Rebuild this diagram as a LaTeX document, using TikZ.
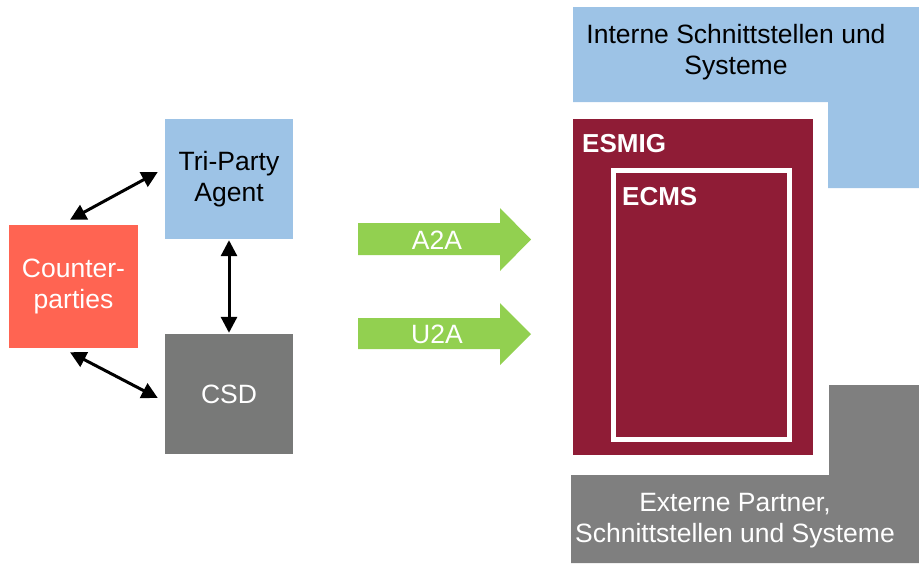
\documentclass[tikz,border=0pt]{standalone}
\usepackage{fontspec}
\setmainfont{Liberation Sans}
\usetikzlibrary{arrows.meta}
\definecolor{tpablue}{HTML}{9DC3E6}
\definecolor{cpred}{HTML}{FF6452}
\definecolor{csdgrey}{HTML}{787978}
\definecolor{extgrey}{HTML}{7F7F7F}
\definecolor{esmigred}{HTML}{8F1C36}
\definecolor{flowgreen}{HTML}{92D050}
\begin{document}
\begin{tikzpicture}[x=1pt,y=-1pt,
    box/.style={rectangle,inner sep=0pt,align=center,
      font=\fontsize{26.5}{31}\selectfont},
    link/.style={{Triangle[length=16pt,width=16pt]}-{Triangle[length=16pt,width=16pt]},line width=3pt},
    flow/.style={fill=flowgreen},
    lbl/.style={inner sep=0pt,align=center,font=\fontsize{26.5}{31}\selectfont},
    tag/.style={anchor=base west,inner sep=0pt,text=white,
      font=\fontsize{26}{30}\selectfont\bfseries}]

  \useasboundingbox (0,0) rectangle (919,563);

  \node[box,fill=tpablue,minimum width=128pt,minimum height=120pt] (tpa) at (229,179) {Tri-Party\\Agent};
  \node[box,fill=cpred,text=white,minimum width=129pt,minimum height=123pt] (cp) at (73.5,286.5) {Counter-\\parties};
  \node[box,fill=csdgrey,text=white,minimum width=128pt,minimum height=120pt] (csd) at (229,394) {CSD};

  \draw[link] ([shift={(-3.5,-5)}]cp.north) -- ([shift={(-7,-7)}]tpa.west);
  \draw[link,shorten <=1pt,shorten >=1pt] (tpa.south) -- (csd.north);
  \draw[link] ([shift={(-3.5,4)}]cp.south) -- ([shift={(-7,4)}]csd.west);

  % A2A / U2A
  \fill[flow] (358,223) -- (500,223) -- (500,208) -- (531,239.5) -- (500,271) -- (500,255) -- (358,255) -- cycle;
  \node[lbl,text=white] (a2a) at (437,240) {A2A};
  \fill[flow] (358,318) -- (500,318) -- (500,303) -- (531,334) -- (500,365) -- (500,349) -- (358,349) -- cycle;
  \node[lbl,text=white] (u2a) at (437,334) {U2A};

  % internal / external
  \fill[tpablue] (573,7) -- (919,7) -- (919,188) -- (828,188) -- (828,102) -- (573,102) -- cycle;
  \node[lbl] (intern) at (736,52) {Interne Schnittstellen und\\Systeme};
  \fill[extgrey] (829,385) -- (919,385) -- (919,563) -- (571,563) -- (571,475) -- (829,475) -- cycle;
  \node[lbl,text=white] (extern) at (735,521) {Externe Partner,\\Schnittstellen und Systeme};

  \node[rectangle,fill=esmigred,inner sep=0pt,minimum width=240pt,minimum height=336pt] (esmig) at (693,287) {};
  \node[tag] at (582,152) {ESMIG};
  \node[rectangle,draw=white,line width=5.5pt,inner sep=0pt,minimum width=176pt,minimum height=269pt] (ecms) at (701.5,305) {};
  \node[tag] at (622,205) {ECMS};

\end{tikzpicture}
\end{document}
